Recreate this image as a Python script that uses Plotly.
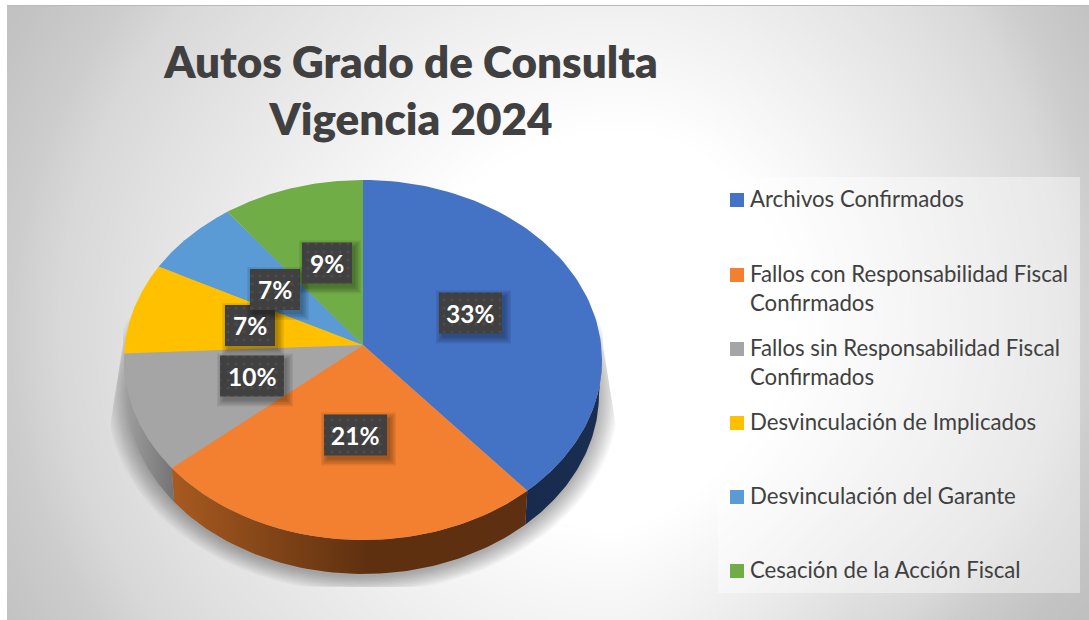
import numpy as np
import plotly.graph_objects as go

# Values as printed on the chart, and the share of the circle each slice really takes
categories = [
    "Archivos Confirmados",
    "Fallos con Responsabilidad Fiscal<br>Confirmados",
    "Fallos sin Responsabilidad Fiscal<br>Confirmados",
    "Desvinculación de Implicados",
    "Desvinculación del Garante",
    "Cesación de la Acción Fiscal",
]
slice_labels = ["33%", "21%", "10%", "7%", "7%", "9%"]
slice_shares = [37.9, 26.8, 10.8, 8.1, 6.7, 9.6]
colors = ["#4472C4", "#F28030", "#A5A5A5", "#FFC000", "#5B9BD5", "#70AD47"]

# walls of the disc, left to right
wall_scales = [
    [[0, "#182B4E"], [1, "#1A2E52"]],
    [[0, "#A85A20"], [0.3, "#7F4317"], [0.55, "#5F3010"], [1, "#5E2F10"]],
    [[0, "#A0A0A0"], [1, "#737373"]],
]

# layout in page pixels (axes run 1:1 with the page)
W, H = 1089, 620
CX, APEX_Y = 363, 345
TOP_Y, RX, RY = 360, 239, 180
BOT_Y, BOT_RX = 394, 236

# centre x, centre y, width of each label box
box_x = [470.5, 355.5, 252, 250, 275, 327]
box_y = [313, 435, 376, 325.5, 289.5, 263]
box_w = [63, 63, 64, 50, 50, 50]
BOX_H = 41
legend_y = [199, 274, 348, 422, 496, 570]


def rim(theta_deg, cy=TOP_Y, rx=RX, ry=RY):
    t = np.radians(theta_deg)
    return CX + rx * np.sin(t), cy - ry * np.cos(t)


def background():
    # cell centres, so the cell edges land on the frame of the picture
    x_edges = np.linspace(7, W, 161)
    y_edges = np.linspace(6, H, 101)
    xs = (x_edges[:-1] + x_edges[1:]) / 2
    ys = (y_edges[:-1] + y_edges[1:]) / 2
    gx, gy = np.meshgrid(xs, ys)
    low = np.interp(gx, [620, 850], [560, 400])
    dx = (gx - 620) / np.where(gx > 620, 483, 610)
    dy = (gy - 330) / np.where(gy > 330, low, 560)
    t = np.hypot(dx, dy)
    down = np.interp(t, [0, 0.35, 0.58, 0.8, 0.92, 1.0, 1.12, 1.4],
                     [0, 0, 15, 30, 39, 50, 60, 72])
    return xs, ys, 255 - down


fig = go.Figure()

xs, ys, z = background()
fig.add_trace(go.Heatmap(
    x=xs, y=ys, z=z, zmin=0, zmax=255, zsmooth="best",
    colorscale=[[0, "#000000"], [1, "#FFFFFF"]],
    showscale=False, hoverinfo="skip",
))

# soft shadow below the disc
theta = np.linspace(0, 360, 240)
for d in range(0, 24, 2):
    sx, sy = rim(theta, cy=BOT_Y + 3, rx=BOT_RX + d * 0.9, ry=RY + d * 0.7)
    limit = 240 + np.clip(sy - APEX_Y, 0, None) * 0.16
    fig.add_trace(go.Scatter(
        x=np.clip(sx, CX - limit, CX + limit), y=np.minimum(sy, 587),
        mode="lines", fill="toself", fillcolor="rgba(0,0,0,0.026)",
        line=dict(width=0), hoverinfo="skip", showlegend=False,
    ))

edges = np.concatenate([[0], np.cumsum(slice_shares)]) / sum(slice_shares) * 360

# walls: only the part of each slice that faces the viewer
for i, scale in enumerate(wall_scales):
    a0, a1 = max(edges[i], 90), min(edges[i + 1], 270)
    arc = np.linspace(a0, a1, 60)
    tx, ty = rim(arc)
    bx, by = rim(arc[::-1], cy=BOT_Y, rx=BOT_RX)
    fig.add_trace(go.Scatter(
        x=np.concatenate([tx, bx]), y=np.concatenate([ty, by]),
        mode="lines", fill="toself",
        fillgradient=dict(type="horizontal", colorscale=scale),
        line=dict(width=0), hoverinfo="skip", showlegend=False,
    ))

# top face
for i, color in enumerate(colors):
    arc = np.linspace(edges[i], edges[i + 1], 80)
    tx, ty = rim(arc)
    fig.add_trace(go.Scatter(
        x=np.concatenate([[CX], tx, [CX]]), y=np.concatenate([[APEX_Y], ty, [APEX_Y]]),
        mode="lines", fill="toself", fillcolor=color,
        line=dict(width=0), hoverinfo="skip", showlegend=False,
    ))

# legend panel, swatches
fig.add_trace(go.Scatter(
    x=[718, 1080, 1080, 718, 718], y=[177, 177, 593, 593, 177],
    mode="lines", fill="toself", fillcolor="rgba(255,255,255,0.42)",
    line=dict(width=0), hoverinfo="skip", showlegend=False,
))
fig.add_shape(type="line", x0=7, x1=W, y0=5.5, y1=5.5,
              line=dict(color="#B8B8B8", width=1), layer="above")
fig.add_trace(go.Scatter(
    x=[737] * len(colors), y=[y + 1 for y in legend_y], mode="markers",
    marker=dict(symbol="square", size=14, color=colors, line_width=0),
    hoverinfo="skip", showlegend=False,
))
for name, y in zip(categories, legend_y):
    fig.add_annotation(
        x=748, y=y - 16.5, text=name, showarrow=False, xanchor="left", yanchor="top",
        align="left", font=dict(family="Lato", size=22.2, color="#404040"),
    )

# data labels: dotted dark boxes with a drop shadow
for order in range(len(slice_labels)):
    cx, cy, bw = box_x[order], box_y[order], box_w[order]
    for grow in [6, 4.5, 3, 1.5, 0]:
        fig.add_trace(go.Scatter(
            x=[cx - bw / 2 + 3 - grow, cx + bw / 2 + 3 + grow, cx + bw / 2 + 3 + grow,
               cx - bw / 2 + 3 - grow, cx - bw / 2 + 3 - grow],
            y=[cy - BOX_H / 2 + 4 - grow, cy - BOX_H / 2 + 4 - grow, cy + BOX_H / 2 + 4 + grow,
               cy + BOX_H / 2 + 4 + grow, cy - BOX_H / 2 + 4 - grow],
            mode="lines", fill="toself", fillcolor="rgba(0,0,0,0.07)",
            line=dict(width=0), hoverinfo="skip", showlegend=False,
        ))
    fig.add_trace(go.Scatter(
        x=[cx - bw / 2, cx + bw / 2, cx + bw / 2, cx - bw / 2, cx - bw / 2],
        y=[cy - BOX_H / 2, cy - BOX_H / 2, cy + BOX_H / 2, cy + BOX_H / 2, cy - BOX_H / 2],
        mode="lines", fill="toself", fillcolor="#404040",
        fillpattern=dict(shape=".", bgcolor="#404040", fgcolor="#555555", size=8, solidity=0.12),
        line=dict(width=0), hoverinfo="skip", showlegend=False,
    ))
    fig.add_annotation(
        x=cx, y=cy, text=slice_labels[order], showarrow=False,
        font=dict(family="Lato", size=24.5, color="white", weight="bold"),
    )

fig.update_xaxes(range=[0, W], visible=False, fixedrange=True)
fig.update_yaxes(range=[H, 0], visible=False, fixedrange=True)
fig.update_layout(
    title=dict(
        text="Autos Grado de Consulta<br>Vigencia 2024",
        x=411 / W, xanchor="center", yref="container", y=1 - 78 / H, yanchor="middle",
        font=dict(family="Lato", size=44, color="#404040", weight=800),
    ),
    width=W, height=H,
    margin=dict(l=0, r=0, t=0, b=0),
    paper_bgcolor="white", plot_bgcolor="white",
    showlegend=False,
)

fig.write_html("out.html", config=dict(displayModeBar=False),
               post_script="document.body.style.margin='0';")
